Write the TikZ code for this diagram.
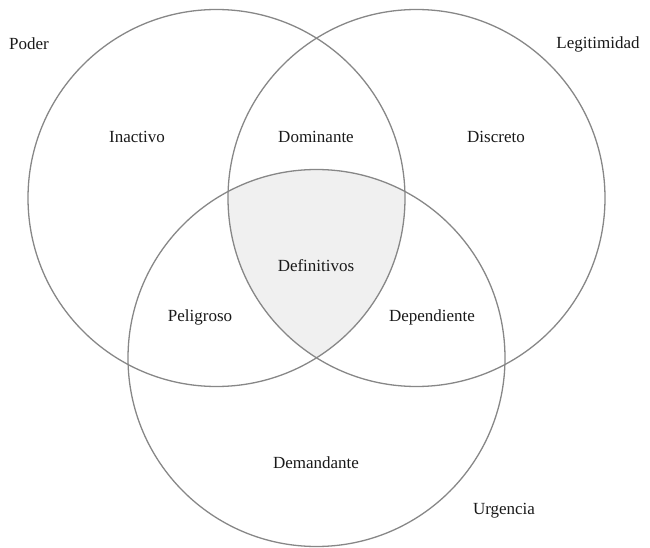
\documentclass[tikz,border=0pt]{standalone}
\usepackage{fontspec}
\setmainfont{Liberation Serif}
\begin{document}
\begin{tikzpicture}[x=1pt,y=1pt,
  ring/.style={circle,draw=black!47,line width=1.3pt,minimum size=377pt,inner sep=0pt},
  lbl/.style={font=\fontsize{17}{20}\selectfont,text=black!90,inner sep=0pt}]
\useasboundingbox (0,0) rectangle (650,547);
\begin{scope}
  \clip (216.5,349) circle (188.5);
  \clip (416.5,349) circle (188.5);
  \fill[black!6] (316.5,189) circle (188.5);
\end{scope}
\node[ring] (poder) at (216.5,349) {};
\node[ring] (legit) at (416.5,349) {};
\node[ring] (urg) at (316.5,189) {};
\node[lbl] (tpoder) at (29,503) {Poder};
\node[lbl] (tlegit) at (598,503) {Legitimidad};
\node[lbl] (tinac) at (137,410) {Inactivo};
\node[lbl] (tdom) at (316,410) {Dominante};
\node[lbl] (tdisc) at (496,410) {Discreto};
\node[lbl] (tdef) at (316,281) {Definitivos};
\node[lbl] (tpel) at (200,230) {Peligroso};
\node[lbl] (tdep) at (432,230) {Dependiente};
\node[lbl] (tdem) at (316,84) {Demandante};
\node[lbl] (turg) at (504,36) {Urgencia};
\end{tikzpicture}
\end{document}
